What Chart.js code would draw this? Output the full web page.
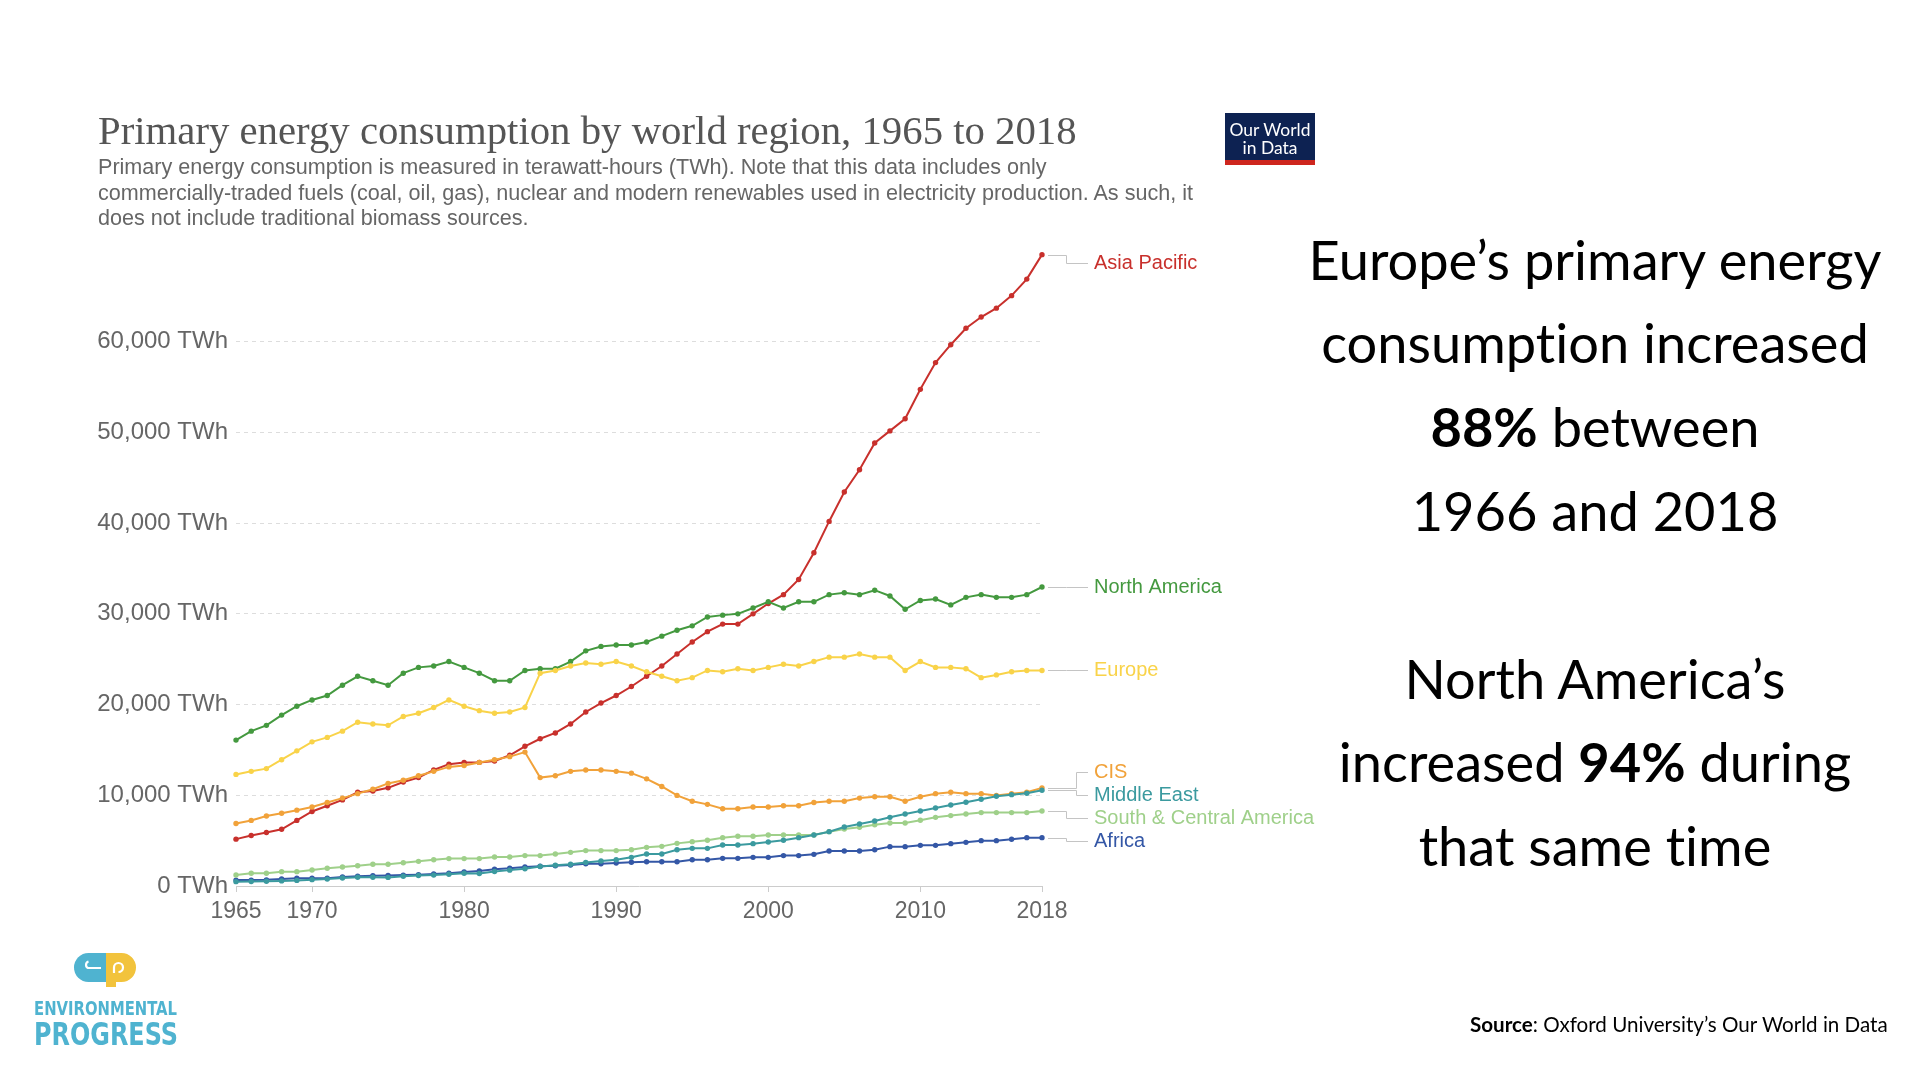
<!DOCTYPE html>
<html lang="en"><head><meta charset="utf-8"><title>Primary energy consumption by world region, 1965 to 2018</title>
<script src="https://cdn.jsdelivr.net/npm/chart.js@4.4.1/dist/chart.umd.min.js"></script>
<style>
html,body{margin:0;padding:0;background:#fff;}
body{width:1920px;height:1080px;position:relative;overflow:hidden;}
#c{position:absolute;left:0;top:0;}
.t{position:absolute;white-space:nowrap;line-height:1.2;font-variant-ligatures:none;font-feature-settings:"liga" 0,"clig" 0;}
.bl{display:inline-block;width:0;height:0;vertical-align:baseline;}
#owid{position:absolute;left:1225px;top:113px;width:90px;height:47px;background:#0d2252;border-bottom:5px solid #ce261e;}
#ep{position:absolute;left:70px;top:950px;}
</style></head>
<body>
<canvas id="c" width="1920" height="1080"></canvas>
<div id="owid"></div>
<svg id="ep" width="70" height="40" viewBox="0 0 70 40">
  <path d="M36 3 H18.5 A14.5 14.5 0 0 0 18.5 32 H36 Z" fill="#4fb3d0"/>
  <path d="M31 18 H18 A3.5 3.5 0 0 1 18.5 11.5" stroke="#fff" stroke-width="2.2" fill="none"/>
  <path d="M36 3 H51.5 A14.5 14.5 0 0 1 51.5 32 H46 V37 H36 Z" fill="#f2c33c"/>
  <path d="M44 23 V17.5 A4.5 4.5 0 1 1 48.5 22" stroke="#fff" stroke-width="2.2" fill="none"/>
</svg>
<script>
// ---------- DATA ----------
const years = [1965,1966,1967,1968,1969,1970,1971,1972,1973,1974,1975,1976,1977,1978,1979,1980,1981,1982,1983,1984,1985,1986,1987,1988,1989,1990,1991,1992,1993,1994,1995,1996,1997,1998,1999,2000,2001,2002,2003,2004,2005,2006,2007,2008,2009,2010,2011,2012,2013,2014,2015,2016,2017,2018];

const asiaPacific = [5165,5560,5900,6250,7230,8215,8850,9490,10330,10480,10820,11460,11950,12790,13430,13625,13625,13770,14410,15400,16230,16870,17860,19180,20170,21000,21990,23120,24250,25580,26900,28040,28870,28870,30000,31140,32120,33790,36740,40190,43430,45890,48840,50170,51500,54750,57700,59670,61490,62720,63700,65080,66900,69600];
const northAmerica = [16085,17070,17710,18840,19820,20510,21000,22135,23120,22630,22135,23460,24100,24250,24740,24100,23460,22630,22630,23760,23950,23950,24740,25920,26410,26560,26560,26900,27545,28185,28680,29660,29860,30000,30645,31330,30645,31330,31330,32120,32320,32120,32610,31970,30500,31480,31630,30990,31820,32120,31820,31820,32120,32960];
const europe = [12300,12640,12940,13920,14900,15890,16380,17070,18050,17860,17710,18690,19040,19680,20510,19820,19330,19040,19180,19680,23460,23760,24250,24590,24450,24740,24250,23610,23120,22630,22970,23760,23610,23950,23760,24100,24450,24250,24740,25230,25230,25580,25230,25230,23760,24740,24100,24100,23950,22970,23270,23610,23760,23760];
const cis = [6890,7230,7720,8020,8360,8710,9200,9690,10180,10670,11310,11660,12150,12640,13130,13280,13625,13920,14260,14760,11950,12150,12640,12790,12790,12640,12440,11810,10970,9985,9350,9000,8510,8510,8710,8710,8850,8850,9200,9350,9350,9690,9840,9840,9350,9840,10180,10330,10180,10180,9985,10180,10330,10820];
const middleEast = [480,500,520,560,620,700,760,880,960,960,950,1080,1150,1200,1300,1400,1380,1600,1750,1900,2150,2300,2400,2600,2750,2900,3160,3530,3530,4000,4150,4150,4520,4520,4670,4850,5040,5330,5620,5990,6510,6840,7170,7570,7940,8270,8600,8930,9230,9560,9890,10070,10220,10550];
const southCentralAmerica = [1210,1400,1400,1580,1580,1760,1950,2100,2240,2390,2390,2570,2720,2900,3020,3020,3020,3200,3200,3350,3350,3530,3710,3900,3900,3900,4000,4260,4370,4700,4890,5040,5330,5480,5480,5620,5620,5620,5620,5990,6290,6470,6760,6950,6950,7240,7570,7760,7940,8090,8090,8090,8090,8270];
const africa = [650,650,680,770,850,850,850,990,1070,1140,1170,1200,1250,1320,1400,1540,1650,1840,1950,2100,2170,2240,2320,2460,2460,2540,2610,2680,2680,2680,2900,2900,3050,3050,3160,3160,3350,3350,3490,3860,3860,3860,4000,4340,4340,4480,4480,4670,4810,5000,5000,5150,5330,5330];

const xTickYears = [1965,1970,1980,1990,2000,2010,2018];
const yTickValues = [0,10000,20000,30000,40000,50000,60000];
const yUnit = ' TWh';

// ---------- STYLE ----------
const seriesList = [
  {name:'Middle East', values: middleEast, color:'#3b9a9f'},
  {name:'South & Central America', values: southCentralAmerica, color:'#9fd08a'},
  {name:'Africa', values: africa, color:'#3457a6'},
  {name:'CIS', values: cis, color:'#f1a23a'},
  {name:'Europe', values: europe, color:'#f9d349'},
  {name:'North America', values: northAmerica, color:'#44993f'},
  {name:'Asia Pacific', values: asiaPacific, color:'#c8302c'}
];

const endLabels = {
  id:'endLabels',
  afterDatasetsDraw(chart){
    const {ctx, chartArea} = chart;
    const gap = 23, minY = chartArea.top + 12;
    const items = chart.data.datasets.map((ds,i)=>{
      const meta = chart.getDatasetMeta(i);
      const p = meta.data[meta.data.length-1];
      return {name:ds.label, color:ds.borderColor, px:p.x, py:p.y, ly:p.y};
    }).sort((a,b)=>a.py-b.py);
    const groups = items.map(it=>({items:[it]}));
    const lay = g=>{const n=g.items.length; const m=g.items.reduce((s,it)=>s+it.py,0)/n; let st=m-(n-1)*gap/2; if(st<minY) st=minY; g.start=st; g.end=st+(n-1)*gap;};
    groups.forEach(lay);
    let changed = true;
    while(changed){
      changed=false;
      for(let i=0;i<groups.length-1;i++){
        if(groups[i].end+gap>groups[i+1].start){
          groups[i].items=groups[i].items.concat(groups[i+1].items);
          groups.splice(i+1,1); lay(groups[i]); changed=true; break;
        }
      }
    }
    groups.forEach(g=>g.items.forEach((it,k)=>{it.ly=g.start+k*gap;}));
    const r = chartArea.right;
    ctx.save();
    ctx.lineWidth = 1;
    ctx.strokeStyle = '#c4c4c4';
    items.forEach(it=>{
      const y1 = Math.round(it.py)+0.5, y2 = Math.round(it.ly)+0.5;
      const bend = (it.name==='CIS'||it.name==='Middle East') ? r+34.5 : r+24.5;
      ctx.beginPath();
      ctx.moveTo(r+6, y1); ctx.lineTo(bend, y1); ctx.lineTo(bend, y2); ctx.lineTo(r+46, y2);
      ctx.stroke();
    });
    ctx.font = '20px "Liberation Sans", Arial, sans-serif';
    ctx.textBaseline = 'middle';
    ctx.textAlign = 'left';
    items.forEach(it=>{ ctx.fillStyle = it.color; ctx.fillText(it.name, r+52, it.ly); });
    ctx.restore();
  }
};

const xFont = {family:'"Liberation Sans", Arial, sans-serif', size:23};
const yFont = {family:'"Liberation Sans", Arial, sans-serif', size:24};

new Chart(document.getElementById('c').getContext('2d'), {
  type:'line',
  data:{
    datasets: seriesList.map(s=>({
      label:s.name,
      data: years.map((y,i)=>({x:y, y:s.values[i]})),
      borderColor:s.color, backgroundColor:s.color,
      pointBackgroundColor:s.color, pointBorderColor:s.color,
      pointBorderWidth:0, pointRadius:2.7, borderWidth:2, tension:0, clip:false
    }))
  },
  options:{
    responsive:false, animation:false, devicePixelRatio:1,
    layout:{padding:{left:96, right:878, top:251, bottom:154}},
    plugins:{legend:{display:false}, tooltip:{enabled:false}},
    scales:{
      x:{
        type:'linear', min:years[0], max:years[years.length-1],
        afterBuildTicks:s=>{s.ticks = xTickYears.map(v=>({value:v}));},
        afterFit:s=>{s.height=40;},
        grid:{drawOnChartArea:false, drawTicks:true, tickLength:6, color:'#cccccc'},
        border:{display:true, color:'#cccccc', width:1},
        ticks:{font:xFont, color:'#666', padding:6, maxRotation:0, autoSkip:false, callback:v=>String(v)}
      },
      y:{
        min:0, max:70000,
        afterBuildTicks:s=>{s.ticks = yTickValues.map(v=>({value:v}));},
        afterFit:s=>{s.width=140;},
        grid:{drawTicks:false, color:c=>(c.tick && c.tick.value===0)?'rgba(0,0,0,0)':'#dddddd', lineWidth:1},
        border:{display:false, dash:[4,4]},
        ticks:{font:yFont, color:'#666', padding:8, callback:v=>v.toLocaleString('en-US')+yUnit}
      }
    }
  },
  plugins:[endLabels]
});

// ---------- TEXT ----------
function placeText(html, o){
  const d=document.createElement('div'); d.className='t';
  d.innerHTML = html + '<span class="bl"></span>';
  d.style.fontFamily=o.font; d.style.fontSize=o.size+'px';
  d.style.color=o.color||'#000'; d.style.fontWeight=o.weight||'400';
  if(o.stretch) d.style.fontStretch=o.stretch;
  d.style.left='0px'; d.style.top='0px';
  if(o.ls) d.style.letterSpacing=o.ls+'px';
  document.body.appendChild(d);
  let w=d.getBoundingClientRect().width;
  if(o.fit){ o.size=o.size*o.fit/w; d.style.fontSize=o.size+'px'; w=d.getBoundingClientRect().width; }
  if(o.fitX){ d.style.transformOrigin='0 0'; d.style.transform='scaleX('+(o.fitX/w)+')'; w=o.fitX; }
  const bl=d.querySelector('.bl').offsetTop;
  const left = o.align==='center'? o.x-w/2 : (o.align==='right'? o.x-w : o.x);
  d.style.left=left+'px'; d.style.top=(o.baseline-bl)+'px';
  return o.size;
}
const serif = '"Liberation Serif","Times New Roman",serif';
const sans = '"Liberation Sans",Arial,sans-serif';
const avenir = 'Lato,"Noto Sans",sans-serif';

placeText('Primary energy consumption by world region, 1965 to 2018',
  {font:serif, size:41, color:'#555', x:98, baseline:144, fit:979});

const subLines = [
  'Primary energy consumption is measured in terawatt-hours (TWh). Note that this data includes only',
  'commercially-traded fuels (coal, oil, gas), nuclear and modern renewables used in electricity production. As such, it',
  'does not include traditional biomass sources.'
];
let subSize = placeText(subLines[1], {font:sans, size:20, color:'#666', x:98, baseline:199.5, fit:1096});
placeText(subLines[0], {font:sans, size:subSize, color:'#666', x:98, baseline:173.8});
placeText(subLines[2], {font:sans, size:subSize, color:'#666', x:98, baseline:225.2});

// OWID logo text
let owSize = placeText('Our World', {font:avenir, size:18, color:'#fff', x:1270, align:'center', baseline:136, fit:81});
placeText('in Data', {font:avenir, size:owSize, color:'#fff', x:1270, align:'center', baseline:154});

// Right-hand commentary
const rightLines = [
  'Europe’s primary energy',
  'consumption increased',
  '<b>88%</b> between',
  '1966 and 2018',
  '',
  'North America’s',
  'increased <b>94%</b> during',
  'that same time'
];
let rSize = 51;
rightLines.forEach((ln,i)=>{
  if(!ln) return;
  const o = {font:avenir, size:rSize, color:'#000', x:1595, align:'center', baseline:279.5+i*83.8};
  if(i===0) o.fit = 573;
  rSize = placeText(ln, o);
});

placeText('<b>Source</b>: Oxford University’s Our World in Data',
  {font:avenir, size:19, color:'#000', x:1470, baseline:1031.5, fit:418});

// Environmental Progress logo
const cond = '"DejaVu Sans Condensed","DejaVu Sans",Arial,sans-serif';
placeText('ENVIRONMENTAL', {font:cond, size:19.2, weight:'700', stretch:'condensed', color:'#4fb3d0', x:34, baseline:1015, fitX:143});
placeText('PROGRESS', {font:cond, size:32, weight:'700', stretch:'condensed', color:'#4fb3d0', x:34, baseline:1045, fitX:144});
</script>
</body></html>
